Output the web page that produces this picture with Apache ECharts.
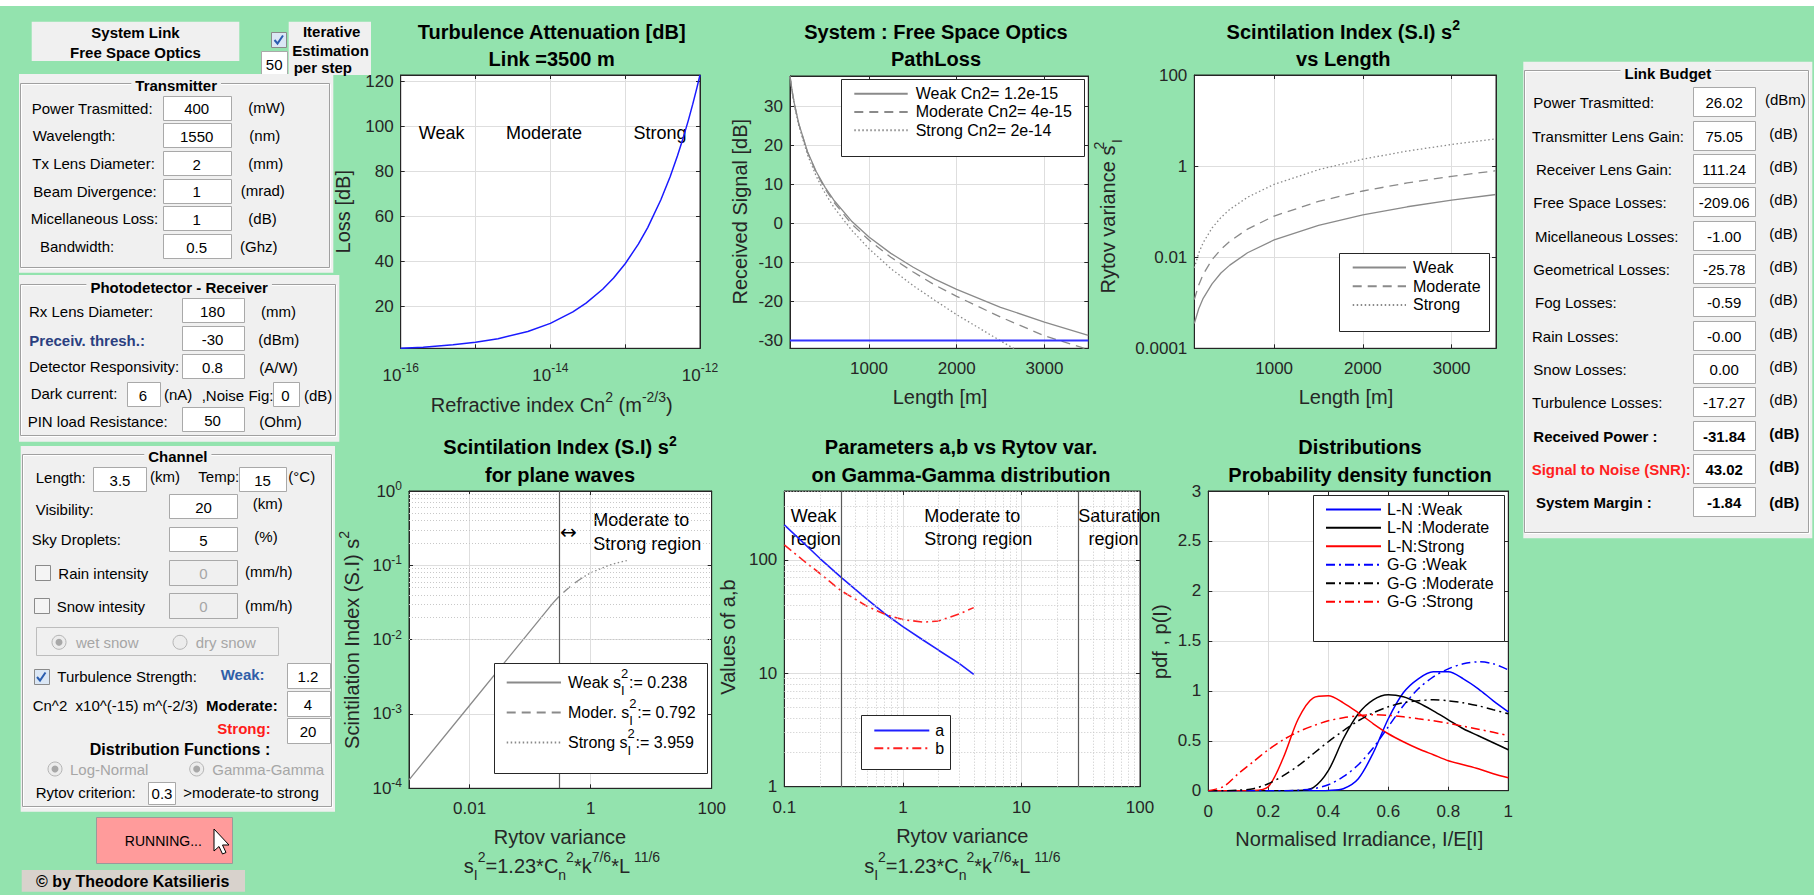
<!doctype html>
<html>
<head>
<meta charset="UTF-8">
<title>System Link - Free Space Optics</title>
<style>
  html, body { margin: 0; padding: 0; background: #93e3ae; overflow: hidden; }
  #main { width: 1814px; height: 895px; }
</style>
</head>
<body>
<div id="main"></div>
<script src="https://cdn.jsdelivr.net/npm/echarts@6/dist/echarts.min.js"></script>
<script>
// ---- values ----

// turbulence attenuation, link 3500 m
var cn2 = [1e-16, 2e-16, 5e-16, 1e-15, 2e-15, 5e-15, 1e-14, 2e-14, 3e-14, 5e-14, 7e-14, 1e-13, 1.5e-13, 2e-13, 3e-13, 4e-13, 5e-13, 6e-13, 7e-13, 8e-13, 9e-13, 1e-12];
var turbLoss = [1.2, 1.7, 2.8, 3.9, 5.5, 8.7, 12.3, 17.4, 21.3, 27.5, 32.5, 38.9, 47.6, 55.0, 67.4, 77.8, 87.0, 95.3, 102.9, 110.0, 116.7, 123.0];
var cn2Ticks = [1e-16, 1e-15, 1e-14, 1e-13, 1e-12];
var cn2Labels = [1e-16, 1e-14, 1e-12];
var cn2Bounds = [1e-15, 1e-13];
var lossTicks = [20, 40, 60, 80, 100, 120];

// path loss
var pathLen = [100, 125, 150, 200, 300, 400, 500, 600, 800, 1000, 1250, 1500, 1750, 2000, 2500, 3000, 3500];
var rxWeak = [37.7, 33.8, 30.6, 25.5, 18.3, 13.2, 9.2, 5.9, 0.6, -3.5, -7.7, -11.2, -14.3, -16.9, -21.5, -25.3, -28.7];
var rxModerate = [37.6, 33.7, 30.5, 25.4, 18.1, 12.9, 8.8, 5.4, -0.1, -4.3, -8.7, -12.4, -15.8, -18.7, -24.0, -28.8, -32.3];
var rxStrong = [37.4, 33.5, 30.2, 25.0, 17.5, 12.0, 7.7, 4.1, -1.7, -6.5, -11.6, -15.9, -19.7, -23.4, -30.1, -36.5, -42.0];
var rxThreshold = -30;
var rxTicks = [-30, -20, -10, 0, 10, 20, 30];
var lenTicks = [1000, 2000, 3000];
var pathNames = ['Weak Cn2= 1.2e-15', 'Moderate Cn2= 4e-15', 'Strong Cn2= 2e-14'];

// scintillation index vs length
var siLen = [100, 150, 200, 300, 400, 500, 700, 1000, 1500, 2000, 2500, 3000, 3500];
var rytovWeak = [3.5e-4, 7.4e-4, 1.25e-3, 2.6e-3, 4.5e-3, 6.7e-3, 0.0125, 0.024, 0.050, 0.085, 0.128, 0.179, 0.238];
var rytovModerate = [1.17e-3, 2.46e-3, 4.2e-3, 8.8e-3, 0.0149, 0.0224, 0.0414, 0.080, 0.168, 0.284, 0.427, 0.597, 0.792];
var rytovStrong = [5.8e-3, 0.0123, 0.0208, 0.0438, 0.0743, 0.112, 0.207, 0.398, 0.837, 1.42, 2.14, 2.98, 3.96];
var rytovTicks = [1e-4, 1e-2, 1, 100];
var rytovTickText = ['0.0001', '0.01', '1', '100'];

// scintillation index for plane waves vs rytov variance
var siWeak = [[0.001, 1.3e-4], [0.01, 1.3e-3], [0.1, 0.013], [0.238, 0.031]];
var siModerate = [[0.238, 0.031], [0.3, 0.038], [0.4, 0.047], [0.5, 0.055], [0.6, 0.061], [0.792, 0.071]];
var siStrong = [[0.792, 0.071], [1, 0.079], [1.5, 0.091], [2, 0.1], [3, 0.11], [3.959, 0.116]];
var siNames = ['Weak', 'Moder.', 'Strong'];
var siLegend = ['0.238', '0.792', '3.959'];
var siXTicks = [0.01, 1, 100];
var siXText = ['0.01', '1', '100'];
var siYTicks = [1e-4, 1e-3, 1e-2, 1e-1, 1];
var rytovCriterion = 0.3;

// gamma-gamma parameters a, b
var abRytov = [0.1, 0.15, 0.2, 0.3, 0.5, 0.73, 1, 1.5, 2, 3, 3.959];
var ggAlpha = [204, 137, 103, 70.5, 45, 32.7, 25.8, 19.5, 16, 12.2, 9.8];
var ggBeta = [136, 96, 76, 53.7, 39, 32.7, 29.8, 28.3, 29, 33.5, 38];
var abXTicks = [0.1, 1, 10, 100];
var abXText = ['0.1', '1', '10', '100'];
var abYTicks = [1, 10, 100];
var abYText = ['1', '10', '100'];
var abBounds = [0.3, 30];

// probability density functions
var irr = [0, 0.05, 0.1, 0.15, 0.2, 0.25, 0.3, 0.35, 0.4, 0.45, 0.5, 0.55, 0.6, 0.65, 0.7, 0.75, 0.8, 0.85, 0.9, 0.95, 1];
var lnWeak = [0, 0, 0, 0, 0, 0, 0, 0, 0.003, 0.02, 0.12, 0.38, 0.72, 0.98, 1.12, 1.19, 1.19, 1.12, 1.02, 0.9, 0.79];
var lnModerate = [0, 0, 0, 0, 0, 0, 0.001, 0.03, 0.2, 0.52, 0.77, 0.91, 0.96, 0.94, 0.88, 0.8, 0.71, 0.62, 0.55, 0.48, 0.41];
var lnStrong = [0, 0, 0, 0.002, 0.04, 0.33, 0.72, 0.93, 0.95, 0.88, 0.78, 0.67, 0.57, 0.49, 0.42, 0.36, 0.3, 0.26, 0.22, 0.17, 0.13];
var ggWeak = [0, 0, 0, 0, 0, 0, 0.005, 0.02, 0.06, 0.14, 0.26, 0.43, 0.64, 0.85, 1.02, 1.14, 1.22, 1.27, 1.29, 1.27, 1.21];
var ggModerate = [0, 0, 0.005, 0.02, 0.07, 0.15, 0.25, 0.37, 0.49, 0.6, 0.7, 0.78, 0.84, 0.88, 0.9, 0.91, 0.9, 0.88, 0.85, 0.81, 0.77];
var ggStrong = [0, 0.04, 0.17, 0.29, 0.41, 0.51, 0.59, 0.65, 0.7, 0.73, 0.75, 0.76, 0.755, 0.74, 0.72, 0.7, 0.675, 0.645, 0.615, 0.585, 0.55];
var pdfNames = ['L-N :Weak', 'L-N :Moderate', 'L-N:Strong', 'G-G :Weak', 'G-G :Moderate', 'G-G :Strong'];

// ---- styling helpers ----
var FONT = '"Liberation Sans", Arial, Helvetica, sans-serif';
var INK = '#262626';
var GRAY = '#8a8a8a';
var DASH = [9, 6], DOT = [1.5, 2.5], DASHDOT = [9, 4, 2, 4];

function zip(xs, ys) { return xs.map(function (x, i) { return [x, ys[i]]; }); }
function log10(v) { return Math.log(v) / Math.LN10; }
function minors(decades, lo, hi) {
  var out = [];
  decades.forEach(function (d) {
    for (var k = 2; k <= 9; k++) { var v = k * d; if (v > lo * 1.0001 && v < hi * 0.9999) out.push(v); }
  });
  return out;
}
function scripts(size, color, weight) {
  var base = {fontFamily: FONT, fontWeight: weight || 'normal', color: color, fill: color, fontSize: size, lineHeight: size};
  return {
    p: Object.assign({}, base, {verticalAlign: 'top'}),
    p0: Object.assign({}, base, {verticalAlign: 'top', width: 0.01}),
    b: Object.assign({}, base, {verticalAlign: 'bottom', width: Math.round(size * 0.62)}),
    q: Object.assign({}, base, {verticalAlign: 'bottom'})
  };
}
function pow10(v) { return '10{p|' + Math.round(log10(v)) + '}'; }
function lookup(ticks, text) {
  return function (v) {
    for (var i = 0; i < ticks.length; i++) if (Math.abs(log10(v / ticks[i])) < 1e-3) return text[i];
    return '';
  };
}
function plain(v) { return String(v); }

var grids = [
  {left: 400.7, top: 75, width: 299.3, height: 273.3},
  {left: 790, top: 76, width: 298.3, height: 272.3},
  {left: 1194.3, top: 75, width: 301.7, height: 273.3},
  {left: 409, top: 491, width: 302.7, height: 297.3},
  {left: 784.3, top: 491, width: 355.7, height: 295.7},
  {left: 1208.3, top: 491, width: 300, height: 299.7}
];

var xAxes = [], yAxes = [];
function addAxis(list, ci, isX, a) {
  var common = {type: a.type, gridIndex: ci, min: a.min, max: a.max};
  if (a.type === 'log') {
    // widen by a hair so ticks sitting on the ends survive rounding
    common.logBase = 10;
    common.min = a.min * (1 - 1e-4);
    common.max = a.max * (1 + 1e-4);
  }
  if (a.interval) common.interval = a.interval;
  var tick = {show: true, inside: true, length: 4, lineStyle: {color: INK, width: 1}};
  if (a.ticks) tick.customValues = a.ticks;
  var lab = {show: true, color: INK, fontSize: 17, fontFamily: FONT, hideOverlap: false,
    margin: a.margin || (isX ? 12 : 7), formatter: a.fmt || plain, showMinLabel: true, showMaxLabel: true};
  if (a.labels || a.ticks) lab.customValues = a.labels || a.ticks;
  if (a.rich) { lab.rich = a.rich; lab.lineHeight = a.lh; }
  list.push(Object.assign({}, common, {
    position: isX ? 'bottom' : 'left',
    axisLine: {show: true, onZero: false, lineStyle: {color: INK}},
    axisTick: tick, axisLabel: lab,
    splitLine: {show: true, lineStyle: {color: '#dedede', width: 1}}
  }));
  list.push(Object.assign({}, common, {
    position: isX ? 'top' : 'right',
    axisLine: {show: true, onZero: false, lineStyle: {color: INK}},
    axisTick: tick, axisLabel: {show: false}, splitLine: {show: false}
  }));
}

// chart 1
addAxis(xAxes, 0, true, {type: 'log', min: 1e-16, max: 1e-12, ticks: cn2Ticks, labels: cn2Labels, fmt: pow10,
  rich: scripts(12, INK), lh: 26, margin: 14});
addAxis(yAxes, 0, false, {type: 'value', min: 1.2, max: 123, ticks: lossTicks});
// chart 2
addAxis(xAxes, 1, true, {type: 'value', min: 100, max: 3500, ticks: lenTicks});
addAxis(yAxes, 1, false, {type: 'value', min: -32, max: 37.7, ticks: rxTicks});
// chart 3
addAxis(xAxes, 2, true, {type: 'value', min: 100, max: 3500, ticks: lenTicks});
addAxis(yAxes, 2, false, {type: 'log', min: 1e-4, max: 100, ticks: rytovTicks, fmt: lookup(rytovTicks, rytovTickText)});
// chart 4
addAxis(xAxes, 3, true, {type: 'log', min: 1e-3, max: 100, ticks: siXTicks, fmt: lookup(siXTicks, siXText)});
addAxis(yAxes, 3, false, {type: 'log', min: 1e-4, max: 1, ticks: siYTicks, fmt: pow10, rich: scripts(12, INK), lh: 22});
// chart 5 (its corner label is added as plain text below: the axis drops it)
addAxis(xAxes, 4, true, {type: 'log', min: 0.1, max: 100, ticks: abXTicks, labels: abXTicks.slice(0, -1),
  fmt: lookup(abXTicks, abXText)});
addAxis(yAxes, 4, false, {type: 'log', min: 1, max: 406, ticks: abYTicks, fmt: lookup(abYTicks, abYText)});
// chart 6
addAxis(xAxes, 5, true, {type: 'value', min: 0, max: 1, interval: 0.2});
addAxis(yAxes, 5, false, {type: 'value', min: 0, max: 3, interval: 0.5});

function line(ci, name, data, color, dash, width, smooth) {
  return {type: 'line', name: name, xAxisIndex: 2 * ci, yAxisIndex: 2 * ci, data: data,
    symbol: 'none', showSymbol: false, smooth: smooth || false, clip: true, silent: true, animation: false, z: 3,
    lineStyle: {color: color, width: width || 1.3, type: dash || 'solid'}, itemStyle: {color: color}};
}
function rules(ci, xs, ys, style) {
  var d = [];
  xs.forEach(function (v) { d.push({xAxis: v}); });
  ys.forEach(function (v) { d.push({yAxis: v}); });
  return {type: 'line', xAxisIndex: 2 * ci, yAxisIndex: 2 * ci, data: [], silent: true, animation: false, z: 2,
    markLine: {silent: true, animation: false, symbol: ['none', 'none'], label: {show: false},
      lineStyle: style, emphasis: {disabled: true}, data: d}};
}
var MINOR = {color: '#c8c8c8', width: 1, type: [1, 2]};
var BOUND = {color: '#5a5a5a', width: 1.2, type: 'solid'};

var series = [
  rules(0, cn2Bounds, [], BOUND),
  line(0, 'Turbulence loss', zip(cn2, turbLoss), '#1a1aff', 'solid', 1.5),

  line(1, pathNames[0], zip(pathLen, rxWeak), GRAY, 'solid', 1.3),
  line(1, pathNames[1], zip(pathLen, rxModerate), GRAY, DASH, 1.3),
  line(1, pathNames[2], zip(pathLen, rxStrong), GRAY, DOT, 1.3),
  line(1, 'Threshold', [[100, rxThreshold], [3500, rxThreshold]], '#3333ff', 'solid', 2),

  line(2, 'Weak', zip(siLen, rytovWeak), GRAY, 'solid', 1.3),
  line(2, 'Moderate', zip(siLen, rytovModerate), GRAY, DASH, 1.3),
  line(2, 'Strong', zip(siLen, rytovStrong), GRAY, DOT, 1.3),

  rules(3, [], minors([1e-4, 1e-3, 1e-2, 1e-1], 1e-4, 1), MINOR),
  rules(3, [rytovCriterion], [], BOUND),
  line(3, siNames[0] + ' s2', siWeak, GRAY, 'solid', 1.3),
  line(3, siNames[1] + ' s2', siModerate, GRAY, DASH, 1.3),
  line(3, siNames[2] + ' s2', siStrong, GRAY, DOT, 1.3),

  rules(4, minors([0.1, 1, 10], 0.1, 100), minors([1, 10, 100], 1, 406), MINOR),
  rules(4, abBounds, [], BOUND),
  line(4, 'a', zip(abRytov, ggAlpha), '#1f1fff', 'solid', 1.6),
  line(4, 'b', zip(abRytov, ggBeta), '#ff2020', DASHDOT, 1.6),

  line(5, pdfNames[0], zip(irr, lnWeak), '#0000ff', 'solid', 1.5, 0.3),
  line(5, pdfNames[1], zip(irr, lnModerate), '#000000', 'solid', 1.5, 0.3),
  line(5, pdfNames[2], zip(irr, lnStrong), '#ff0000', 'solid', 1.5, 0.3),
  line(5, pdfNames[3], zip(irr, ggWeak), '#0000ff', DASHDOT, 1.5, 0.3),
  line(5, pdfNames[4], zip(irr, ggModerate), '#000000', DASHDOT, 1.5, 0.3),
  line(5, pdfNames[5], zip(irr, ggStrong), '#ff0000', DASHDOT, 1.5, 0.3)
];

// ---- graphic: panels, labels, annotations ----
var G = [];
function R(x, y, w, h, fill, stroke, lw, z) {
  G.push({type: 'rect', silent: true, z: z || 1, shape: {x: x, y: y, width: w, height: h},
    style: {fill: fill || 'none', stroke: stroke || 'none', lineWidth: lw || 1}});
}
function T(x, y, s, o) {
  o = o || {};
  var el = {type: 'text', silent: true, x: x, y: y, z: o.z || 3, rotation: o.rot || 0,
    style: {text: s, fontSize: o.size || 15, fontFamily: o.family || FONT, fontWeight: o.bold ? 'bold' : 'normal',
      fill: o.color || '#000', align: o.align || 'left', verticalAlign: 'middle'}};
  if (o.lh) el.style.lineHeight = o.lh;
  if (o.rich) el.style.rich = o.rich;
  if (o.bg) { el.style.backgroundColor = o.bg; el.style.padding = o.pad || [0, 3]; }
  G.push(el);
}
function px(v) { return Math.round(v) + 0.5; }
function E(x1, y1, x2, y2, v, o) {
  o = o || {};
  R(px(x1), px(y1), Math.round(x2 - x1), Math.round(y2 - y1), o.off ? '#f0f0f0' : '#ffffff', '#a9a9a9');
  T((x1 + x2) / 2, (y1 + y2) / 2 + 1, v, {align: 'center', bold: o.bold, color: o.off ? '#a6a6a6' : '#000'});
}
function CB(x, y, on) {
  R(px(x), px(y), 15, 15, on ? '#dbe7f5' : '#f4f4f4', '#8a8a8a');
  if (on) G.push({type: 'polyline', silent: true, z: 3,
    shape: {points: [[x + 3.5, y + 8], [x + 6.5, y + 11.5], [x + 12, y + 3.5]]},
    style: {stroke: '#2a5db0', lineWidth: 2, fill: 'none'}});
}
function RB(cx, cy, on) {
  G.push({type: 'circle', silent: true, z: 2, shape: {cx: cx, cy: cy, r: 7},
    style: {fill: '#ececec', stroke: '#b4b4b4', lineWidth: 1}});
  if (on) G.push({type: 'circle', silent: true, z: 3, shape: {cx: cx, cy: cy, r: 3.5}, style: {fill: '#a8a8a8'}});
}
function panel(x1, y1, x2, y2, title, ty) {
  R(x1, y1, x2 - x1, y2 - y1, '#f0f0f0', null, 1, 0);
  R(px(x1 + 2), px(ty - 2), Math.round(x2 - x1 - 5), Math.round(y2 - ty - 3), null, '#ffffff');
  R(px(x1 + 1), px(ty - 3), Math.round(x2 - x1 - 5), Math.round(y2 - ty - 3), null, '#a0a0a0');
  T((x1 + x2) / 2, ty, title, {bold: true, align: 'center', bg: '#f0f0f0', pad: [1, 4]});
}

// top strip and title boxes
R(0, 0, 1814, 6, '#ffffff', null, 1, 0);
R(31.7, 21.7, 207.6, 39.3, '#f0f0f0');
T(135.5, 32.3, 'System Link', {bold: true, align: 'center'});
T(135.5, 52.7, 'Free Space Optics', {bold: true, align: 'center'});
CB(271, 32, true);
R(288.7, 21.7, 82.3, 53.3, '#f0f0f0');
T(331.7, 31, 'Iterative', {bold: true, align: 'center'});
T(330.5, 50.7, 'Estimation', {bold: true, align: 'center'});
T(322.8, 67.7, 'per step', {bold: true, align: 'center'});
E(261, 51, 287.3, 75, '50');

// transmitter
panel(19, 74, 333.3, 272.7, 'Transmitter', 85.7);
[
  ['Power Trasmitted:', 31.7, 95.7, '400', 248.3, '(mW)'],
  ['Wavelength:', 32.7, 123.3, '1550', 249.3, '(nm)'],
  ['Tx Lens Diameter:', 32.3, 151, '2', 248.3, '(mm)'],
  ['Beam Divergence:', 33.3, 178.7, '1', 240.7, '(mrad)'],
  ['Micellaneous Loss:', 30.7, 206.3, '1', 248.3, '(dB)'],
  ['Bandwidth:', 40, 234.3, '0.5', 240, '(Ghz)']
].forEach(function (r) {
  T(r[1], r[2] + 12.5, r[0]);
  E(162.7, r[2], 230.7, r[2] + 24.3, r[3]);
  T(r[4], r[2] + 12, r[5]);
});

// photodetector
panel(19, 275, 339.3, 441.7, 'Photodetector - Receiver', 287.3);
T(29, 311.7, 'Rx Lens Diameter:'); E(181.7, 298.3, 243.3, 322.3, '180'); T(261, 311, '(mm)');
T(29.3, 340, 'Preceiv. thresh.:', {bold: true, color: '#2b3f80'}); E(181.7, 326, 243.3, 350, '-30'); T(258.3, 339, '(dBm)');
T(29, 366.7, 'Detector Responsivity:'); E(181.7, 354, 243.3, 378.3, '0.8'); T(259.3, 367, '(A/W)');
T(30.7, 393, 'Dark current:'); E(126.7, 382.3, 159.3, 406, '6'); T(164, 394, '(nA)');
T(201.7, 395, ',Noise Fig:'); E(272.7, 382.3, 298.3, 406, '0'); T(304, 395, '(dB)');
T(27.7, 421, 'PIN load Resistance:'); E(181.7, 407.3, 243.3, 431.7, '50'); T(259.3, 421, '(Ohm)');

// channel
panel(20.7, 446, 335, 811.7, 'Channel', 456.7);
T(35.7, 477.5, 'Length:'); E(93.3, 467.3, 146.7, 491.7, '3.5'); T(150, 476, '(km)');
T(198.3, 476, 'Temp:'); E(239, 467.3, 286, 491.7, '15'); T(288.3, 476, '(\u00b0C)');
T(35.7, 509.3, 'Visibility:'); E(169.3, 494, 237.7, 518.3, '20'); T(252.7, 503.3, '(km)');
T(31.7, 539, 'Sky Droplets:'); E(169.3, 527.3, 237.7, 551.7, '5'); T(254.3, 536.7, '(%)');
CB(34.5, 564.5, false); T(58.3, 573.3, 'Rain intensity'); E(169.3, 560, 237.7, 585, '0', {off: true}); T(245, 571, '(mm/h)');
CB(33.5, 598, false); T(56.7, 606.7, 'Snow intesity'); E(169.3, 593.3, 237.7, 618.3, '0', {off: true}); T(245, 605.7, '(mm/h)');
R(px(35.7), px(626.7), 242, 28, null, '#bdbdbd');
RB(59, 642.3, true); T(76, 642.3, 'wet snow', {color: '#a6a6a6'});
RB(180, 642.3, false); T(195.7, 642.3, 'dry snow', {color: '#a6a6a6'});
CB(33.5, 669, true); T(57.3, 676.7, 'Turbulence Strength:');
T(220.7, 674.3, 'Weak:', {bold: true, color: '#2f5ea8'}); E(286.7, 662.7, 329.3, 687.3, '1.2');
T(32.7, 705, 'Cn^2  x10^(-15) m^(-2/3)'); T(206, 705, 'Moderate:', {bold: true}); E(286.7, 690.7, 329.3, 715.3, '4');
T(217.3, 728.3, 'Strong:', {bold: true, color: '#ff1a1a'}); E(286.7, 718.3, 329.3, 743.3, '20');
T(180, 749, 'Distribution Functions :', {bold: true, align: 'center', size: 16});
RB(55, 769, true); T(70, 769, 'Log-Normal', {color: '#a6a6a6'});
RB(196.7, 769, true); T(212.3, 769, 'Gamma-Gamma', {color: '#a6a6a6'});
T(35.7, 792.7, 'Rytov criterion:'); E(148.3, 781.7, 175.7, 803.3, '0.3'); T(183.3, 792.7, '>moderate-to strong');

// button, cursor and credit
R(px(95.7), px(816.7), 136, 46, '#ff9b9b', '#9a9a9a');
T(163.3, 840.7, 'RUNNING...', {align: 'center', size: 14});
G.push({type: 'polygon', silent: true, z: 4,
  shape: {points: [[214, 829], [214, 851], [219, 846.5], [222.5, 854], [226, 852.5], [222.5, 845], [229, 845]]},
  style: {fill: '#ffffff', stroke: '#000000', lineWidth: 1}});
R(21.7, 870, 223.3, 21.7, '#d8d2cc');
T(132.7, 881, '\u00a9 by Theodore Katsilieris', {bold: true, align: 'center', size: 16});

// link budget
panel(1523.3, 61.7, 1812.3, 538.3, 'Link Budget', 73.3);
[
  ['Power Trasmitted:', 1533.3, '26.02', '(dBm)', 0],
  ['Transmitter Lens Gain:', 1532, '75.05', '(dB)', 0],
  ['Receiver Lens Gain:', 1536, '111.24', '(dB)', 0],
  ['Free Space Losses:', 1533.3, '-209.06', '(dB)', 0],
  ['Micellaneous Losses:', 1535, '-1.00', '(dB)', 0],
  ['Geometrical Losses:', 1533.3, '-25.78', '(dB)', 0],
  ['Fog Losses:', 1535, '-0.59', '(dB)', 0],
  ['Rain Losses:', 1532, '-0.00', '(dB)', 0],
  ['Snow Losses:', 1533.3, '0.00', '(dB)', 0],
  ['Turbulence Losses:', 1532, '-17.27', '(dB)', 0],
  ['Received Power :', 1533.3, '-31.84', '(dB)', 1],
  ['Signal to Noise (SNR):', 1531.7, '43.02', '(dB)', 2],
  ['System Margin :', 1536, '-1.84', '(dB)', 1]
].forEach(function (r, i) {
  var cy = 101.7 + i * 33.33;
  T(r[1], cy + 1, r[0], {bold: r[4] > 0, color: r[4] === 2 ? '#ff1f1f' : '#000'});
  E(1693.3, cy - 14.3, 1755, cy + 14.3, r[2], {bold: r[4] > 0});
  T(r[3] === '(dBm)' ? 1765 : 1769.3, cy - 2 + (i === 12 ? 3 : 0), r[3], {bold: r[4] > 0});
});

// axis names and region annotations
var R20 = scripts(14, INK);
T(551.7, 405, 'Refractive index Cn{p|2} (m{p|-2/3})', {size: 20, color: INK, align: 'center', lh: 30, rich: R20});
T(343.3, 211.7, 'Loss [dB]', {size: 20, color: INK, align: 'center', rot: Math.PI / 2});
T(441.7, 133, 'Weak', {size: 18, align: 'center'});
T(544, 133, 'Moderate', {size: 18, align: 'center'});
T(660, 133, 'Strong', {size: 18, align: 'center'});

T(940, 396.7, 'Length [m]', {size: 20, color: INK, align: 'center'});
T(740, 211.7, 'Received Signal [dB]', {size: 20, color: INK, align: 'center', rot: Math.PI / 2});

T(1346, 396.7, 'Length [m]', {size: 20, color: INK, align: 'center'});
T(1108, 215, 'Rytov variance s{p0|2}{b|I}', {size: 20, color: INK, align: 'center', lh: 32, rich: R20, rot: Math.PI / 2});

// the rytov formula, subscripts placed right after their superscripts
var FORMULA = 's{q|I}{p|2}=1.23*C{q|n}{p|2}*k{p|7/6}*L{p| 11/6}';
T(560, 836.7, 'Rytov variance', {size: 20, color: INK, align: 'center'});
T(562, 866, FORMULA, {size: 20, color: INK, align: 'center', lh: 32, rich: R20});
T(351.7, 640, 'Scintilation Index (S.I) s{p|2}', {size: 20, color: INK, align: 'center', lh: 30, rich: R20, rot: Math.PI / 2});
T(568.3, 532, '\u2194', {size: 20, align: 'center', family: '"DejaVu Sans", sans-serif'});
T(593.3, 520, 'Moderate to', {size: 18});
T(593.3, 544, 'Strong region', {size: 18});

T(962.3, 836, 'Rytov variance', {size: 20, color: INK, align: 'center'});
T(962.3, 866, FORMULA, {size: 20, color: INK, align: 'center', lh: 32, rich: R20});
T(728.3, 637, 'Values of a,b', {size: 20, color: INK, align: 'center', rot: Math.PI / 2});
T(790.7, 516, 'Weak', {size: 18});
T(790.7, 539.3, 'region', {size: 18});
T(924.3, 516, 'Moderate to', {size: 18});
T(924.3, 539.3, 'Strong region', {size: 18});
T(1078.3, 516, 'Saturation', {size: 18});
T(1088.5, 539.3, 'region', {size: 18});
// x label on the right corner of the a,b chart
T(grids[4].left + grids[4].width, grids[4].top + grids[4].height + 20.5, abXText[abXText.length - 1],
  {size: 17, color: INK, align: 'center', z: 50});

T(1359.3, 839.3, 'Normalised Irradiance, I/E[I]', {size: 20, color: INK, align: 'center'});
T(1160, 641.7, 'pdf , p(I)', {size: 20, color: INK, align: 'center', rot: Math.PI / 2});

// legend frames
[[841, 79, 1084, 155.7], [1339, 253.3, 1489.3, 331], [494, 662.7, 707.3, 772.7],
 [860.7, 715, 950, 769.3], [1312.7, 495, 1504, 641]].forEach(function (b) {
  R(px(b[0]), px(b[1]), Math.round(b[2] - b[0]), Math.round(b[3] - b[1]), '#ffffff', INK, 1, 15);
});

function legend(names, left, top, w, rowH, gap, fmt, rich) {
  var ts = {fontSize: 16, fontFamily: FONT, color: '#000', padding: [0, 0, 0, gap]};
  if (rich) { ts.rich = rich; ts.lineHeight = 30; }
  var l = {data: names, orient: 'vertical', left: left, top: top, itemWidth: w, itemHeight: rowH, itemGap: 0,
    padding: 0, selectedMode: false, z: 20, textStyle: ts,
    itemStyle: {opacity: 0, borderWidth: 0}};
  if (fmt) l.formatter = fmt;
  return l;
}

var titleRich = {p: {fontSize: 14, lineHeight: 14, fontWeight: 'bold', fontFamily: FONT, color: '#000', verticalAlign: 'top'}};
function title(x, y, text) {
  return {text: text, left: x, top: y, textAlign: 'center', padding: 0,
    textStyle: {fontSize: 20, fontWeight: 'bold', fontFamily: FONT, color: '#000', lineHeight: 27.6, rich: titleRich}};
}

var option = {
  backgroundColor: '#93e3ae',
  animation: false,
  textStyle: {fontFamily: FONT},
  title: [
    title(551.7, 17.9, 'Turbulence Attenuation [dB]\nLink =3500 m'),
    title(936, 17.9, 'System : Free Space Optics\nPathLoss'),
    title(1343.3, 17.9, 'Scintilation Index (S.I) s{p|2}\nvs Length'),
    title(560, 433.5, 'Scintilation Index (S.I) s{p|2}\nfor plane waves'),
    title(961, 433.5, 'Parameters a,b vs Rytov var.\non Gamma-Gamma distribution'),
    title(1360, 433.5, 'Distributions\nProbability density function')
  ],
  grid: grids.map(function (g) {
    return Object.assign({show: true, backgroundColor: '#ffffff', borderColor: INK, borderWidth: 1}, g);
  }),
  xAxis: xAxes,
  yAxis: yAxes,
  legend: [
    legend(pathNames, 853.3, 84.6, 53.4, 22.8, 3),
    legend(['Weak', 'Moderate', 'Strong'], 1351.7, 258.3, 53.3, 23.3, 2),
    legend(siNames.map(function (n) { return n + ' s2'; }), 505.7, 667.5, 54.3, 33.7, 2, function (name) {
      var i = siNames.indexOf(name.slice(0, -3));
      return siNames[i] + ' s{p0|2}{b|I}:= ' + siLegend[i];
    }, scripts(13, '#000')),
    legend(['a', 'b'], 873.3, 721.5, 55, 22.3, 1),
    legend(pdfNames, 1325, 500.2, 55, 23.06, 1)
  ],
  graphic: {elements: G},
  series: series
};

var chart = echarts.init(document.getElementById('main'), null, {renderer: 'svg', width: 1814, height: 895});
chart.setOption(option);
</script>
</body>
</html>
